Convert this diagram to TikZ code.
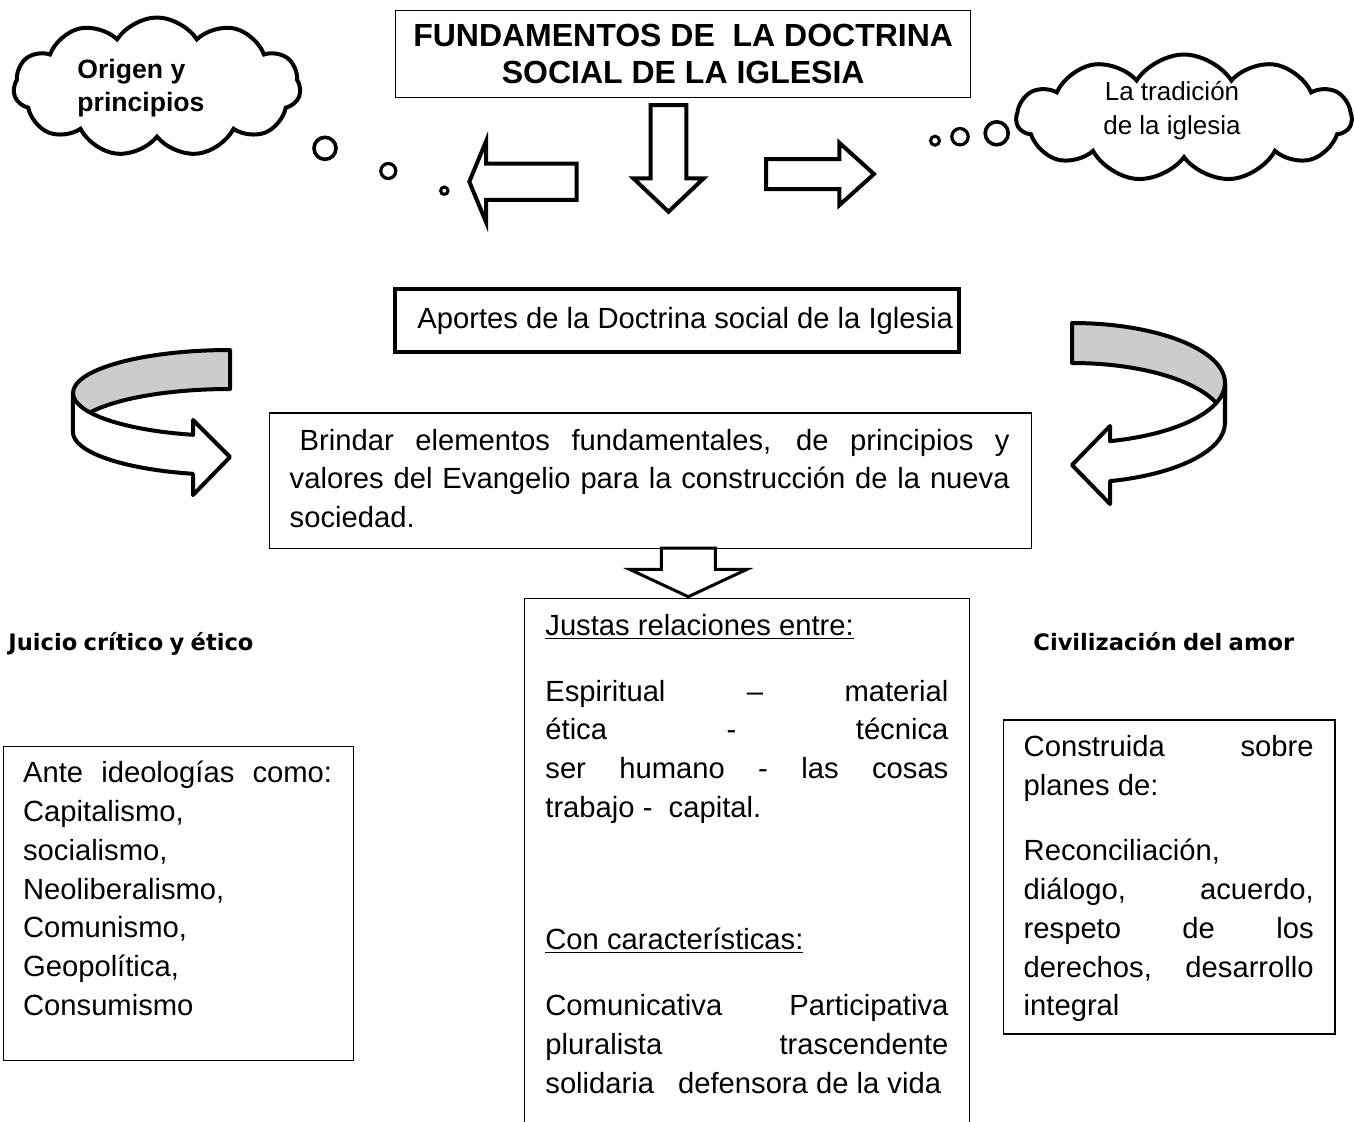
\documentclass[tikz,border=0pt]{standalone}
\usepackage{fontspec}
\setmainfont{Liberation Sans}
\newfontfamily\tahoma{DejaVu Sans}
\usetikzlibrary{shapes.arrows, shapes.symbols, positioning}

\newcommand{\fijos}{\spaceskip=.278em\xspaceskip=.278em\relax}
\newcommand{\jl}[1]{\makebox[\hsize][s]{\spaceskip=0pt\xspaceskip=0pt\relax #1}}

\tikzset{
  texto/.style={font=\fontsize{14.6}{19.4}\selectfont, align=left, anchor=base west, inner sep=0pt},
  caja/.style={draw, line width=0.7pt, anchor=north west, inner sep=0pt},
  bloque/.style={single arrow, draw, fill=white, line width=2pt, inner sep=0pt, outer sep=0pt,
    minimum width=0pt, anchor=tip},
  nube/.style={cloud, draw, line width=2pt, cloud puffs=11, cloud puff arc=115,
    cloud ignores aspect, inner sep=0pt},
  burbuja/.style={circle, draw, line width=1.6pt, inner sep=0pt},
  cinta/.style={draw, line width=2pt, line join=round},
  encabezado/.style={font=\tahoma\fontsize{11.3}{14}\selectfont\bfseries, anchor=base west, inner sep=0pt}
}

\begin{document}
\begin{tikzpicture}[x=0.5pt, y=-0.5pt]
  \useasboundingbox (0,0) rectangle (1354,1121);

  % titulo y nubes
  \node[caja, minimum width=287.5pt, minimum height=43.5pt, font=\fontsize{16}{18.5}\selectfont\bfseries,
    text width=287.5pt, align=center] (titulo) at (395,10)
    {\fijos FUNDAMENTOS DE\ \ LA DOCTRINA\\SOCIAL DE LA IGLESIA};

  \node[nube, minimum width=143.5pt, minimum height=69.5pt] (nubeizq) at (157,87) {};
  \node[font=\fontsize{13.3}{16.7}\selectfont\bfseries, text width=70pt, align=left, anchor=base west,
    inner sep=0pt] (origen) at (77,78.3) {\fijos Origen y\\principios};
  \node[nube, minimum width=167.5pt, minimum height=63.5pt] (nubeder) at (1184,118) {};
  \node[font=\fontsize{13}{17}\selectfont, text width=80pt, align=center, anchor=base,
    inner sep=0pt] (tradicion) at (1172,100) {\fijos La tradición\\de la iglesia};

  \node[burbuja, line width=1.8pt, minimum size=11pt] (bi1) at (325,148.3) {};
  \node[burbuja, minimum size=7.5pt] (bi2) at (388.3,171) {};
  \node[burbuja, line width=1.5pt, minimum size=3.7pt] (bi3) at (444.3,190.7) {};
  \node[burbuja, line width=1.5pt, minimum size=4.5pt] (bd1) at (935,140.7) {};
  \node[burbuja, minimum size=8.2pt] (bd2) at (960,136.7) {};
  \node[burbuja, line width=1.8pt, minimum size=11.5pt] (bd3) at (996.7,133.3) {};

  % flechas de bloque
  \node[bloque, shape border rotate=180, inner ysep=8.1pt, single arrow head extend=11.1pt,
    minimum height=53.7pt, single arrow tip angle=135] (flechaizq) at (469.3,181.7) {};
  \node[bloque, shape border rotate=270, inner xsep=7.9pt, single arrow head extend=8.7pt,
    minimum height=53.3pt, single arrow tip angle=93] (flechaabajo) at (668.5,211.7) {};
  \node[bloque, shape border rotate=3, inner ysep=6.5pt, single arrow head extend=8.1pt,
    minimum height=54pt, single arrow tip angle=84] (flechader) at (874,174) {};

  % aportes
  \node[caja, line width=2.2pt, minimum width=282pt, minimum height=31.5pt, font=\fontsize{14.6}{19.4}\selectfont]
    (aportes) at (393,287) {\hspace{8pt}Aportes de la Doctrina social de la Iglesia};

  % cintas curvas
  \path[cinta, fill=black!20] (230,350) arc[start angle=-90, end angle=-180, x radius=157, y radius=43]
    -- (73,432) arc[start angle=180, end angle=270, x radius=157, y radius=43] -- cycle;
  \path[cinta, fill=white] (73,393) arc[start angle=180, end angle=103.6, x radius=157, y radius=43]
    -- (193,420) -- (230,457) -- (193,495) -- (193,473.8)
    arc[start angle=103.6, end angle=180, x radius=157, y radius=43] -- cycle;

  \path[cinta, fill=black!20] (1072,323) arc[start angle=-90, end angle=0, x radius=153, y radius=60]
    -- (1225,423) arc[start angle=0, end angle=-90, x radius=153, y radius=60] -- cycle;
  \path[cinta, fill=white] (1225,383) arc[start angle=0, end angle=75.6, x radius=153, y radius=60]
    -- (1110,426) -- (1072,465) -- (1110,504) -- (1110,481.1)
    arc[start angle=75.6, end angle=0, x radius=153, y radius=60] -- cycle;

  % brindar
  \node[caja, minimum width=381pt, minimum height=67.7pt] (brindarbox) at (269,412.3) {};
  \node[texto, text width=360pt] (brindar) at (289.3,450)
    {\fijos\jl{\hspace*{5pt}Brindar elementos fundamentales, de principios y}\\
     \jl{valores del Evangelio para la construcción de la nueva}\\
     sociedad.};

  \node[bloque, shape border rotate=270, line width=1.5pt, inner xsep=12.75pt, single arrow head extend=15.7pt,
    minimum height=24.35pt, single arrow tip angle=130] (flechacentro) at (688.3,596.7) {};

  % encabezados
  \node[encabezado] (juicio) at (8,650) {\fijos Juicio crítico y ético};
  \node[encabezado] (civil) at (1033,650) {\fijos Civilización del amor};

  % cajas inferiores
  \node[caja, minimum width=174.85pt, minimum height=157.15pt] (ideobox) at (3,745.7) {};
  \node[texto, text width=154.5pt] (ideologias) at (22.7,782.7)
    {\fijos\jl{Ante ideologías como:}\\
     Capitalismo,\\
     socialismo,\\
     Neoliberalismo,\\
     Comunismo,\\
     Geopolítica,\\
     Consumismo};

  \node[caja, minimum width=222.5pt, minimum height=264pt] (justbox) at (524,597.7) {};
  \node[texto, text width=201.5pt] (justas) at (545,635)
    {\fijos\underline{Justas relaciones entre:}\\[13.6pt]
     \jl{Espiritual – material}\\
     \jl{ética - técnica}\\
     \jl{ser humano - las cosas}\\
     trabajo -\ \ capital.\\[46.6pt]
     \underline{Con características:}\\[13.6pt]
     \jl{Comunicativa Participativa}\\
     \jl{pluralista trascendente}\\
     solidaria\hspace{12pt}defensora de la vida};

  \node[caja, minimum width=165.8pt, minimum height=157pt] (amorbox) at (1002.7,719.3) {};
  \node[texto, text width=145pt] (construida) at (1023.3,756.7)
    {\fijos\jl{Construida sobre}\\
     planes de:\\[13.2pt]
     Reconciliación,\\
     \jl{diálogo, acuerdo,}\\
     \jl{respeto de los}\\
     \jl{derechos, desarrollo}\\
     integral};
\end{tikzpicture}
\end{document}
